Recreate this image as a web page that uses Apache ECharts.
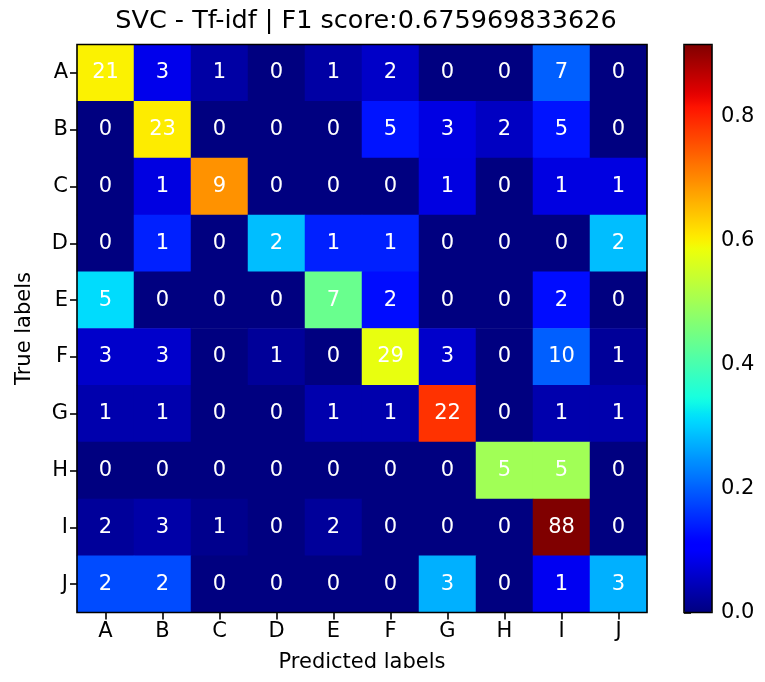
<!DOCTYPE html>
<html>
<head>
<meta charset="utf-8">
<script src="https://cdn.jsdelivr.net/npm/echarts@6/dist/echarts.min.js"></script>
<style>
html,body{margin:0;padding:0;background:#fff;}
#chart{width:765px;height:682px;}
</style>
</head>
<body>
<div id="chart"></div>
<script>
const categories = ['A','B','C','D','E','F','G','H','I','J'];
const counts = [
  [21, 3, 1, 0, 1, 2, 0, 0, 7, 0],
  [ 0,23, 0, 0, 0, 5, 3, 2, 5, 0],
  [ 0, 1, 9, 0, 0, 0, 1, 0, 1, 1],
  [ 0, 1, 0, 2, 1, 1, 0, 0, 0, 2],
  [ 5, 0, 0, 0, 7, 2, 0, 0, 2, 0],
  [ 3, 3, 0, 1, 0,29, 3, 0,10, 1],
  [ 1, 1, 0, 0, 1, 1,22, 0, 1, 1],
  [ 0, 0, 0, 0, 0, 0, 0, 5, 5, 0],
  [ 2, 3, 1, 0, 2, 0, 0, 0,88, 0],
  [ 2, 2, 0, 0, 0, 0, 3, 0, 1, 3]
];
const colorbarTicks = [0, 0.2, 0.4, 0.6, 0.8];
const titleText = 'SVC - Tf-idf | F1 score:0.675969833626';

// row-normalised values for colour
const data = [];
let vmax = 0;
counts.forEach((row, r) => {
  const s = row.reduce((a, b) => a + b, 0);
  row.forEach((c, col) => {
    const v = s ? c / s : 0;
    if (v > vmax) vmax = v;
    data.push([col, r, v, c]);
  });
});

// matplotlib "jet" colormap
function seg(pts, x) {
  for (let i = 1; i < pts.length; i++) {
    if (x <= pts[i][0]) {
      const [x0, y0] = pts[i - 1], [x1, y1] = pts[i];
      return y0 + (y1 - y0) * (x - x0) / (x1 - x0);
    }
  }
  return pts[pts.length - 1][1];
}
const R = [[0,0],[0.35,0],[0.66,1],[0.89,1],[1,0.5]];
const G = [[0,0],[0.125,0],[0.375,1],[0.64,1],[0.91,0],[1,0]];
const B = [[0,0.5],[0.11,1],[0.34,1],[0.65,0],[1,0]];
const jet = [];
for (let i = 0; i <= 64; i++) {
  const x = i / 64;
  const c = [seg(R,x), seg(G,x), seg(B,x)].map(v => Math.round(v * 255));
  jet.push('rgb(' + c.join(',') + ')');
}

const FONT = 'DejaVu Sans';
const FS = 21;
const chart = echarts.init(document.getElementById('chart'));
const gridMain = {left: 77, top: 44.5, width: 570, height: 568};
const gridBar = {left: 684, top: 44.5, width: 28, height: 568};
chart.setOption({
  animation: false,
  textStyle: {fontFamily: FONT, color: '#000'},
  title: {
    text: titleText,
    left: 361, top: 3, textAlign: 'center',
    textStyle: {fontFamily: FONT, fontSize: 25.5, fontWeight: 'normal', color: '#000'}
  },
  grid: [
    Object.assign({show: true, borderColor: '#000', borderWidth: 1.6, backgroundColor: 'transparent', z: 10, containLabel: false}, gridMain),
    Object.assign({show: true, borderColor: '#000', borderWidth: 1.6, backgroundColor: 'transparent', z: 10, containLabel: false}, gridBar)
  ],
  xAxis: [
    {
      type: 'category', data: categories, gridIndex: 0, position: 'bottom',
      name: 'Predicted labels', nameLocation: 'middle', nameGap: 40,
      nameTextStyle: {fontSize: FS, color: '#000', fontFamily: FONT},
      axisLine: {show: false},
      axisTick: {show: true, alignWithLabel: true, length: 7, lineStyle: {color: '#000', width: 1.6}},
      axisLabel: {fontSize: FS, color: '#000', margin: 9, fontFamily: FONT},
      splitLine: {show: false}
    },
    {
      type: 'value', gridIndex: 1, show: false, min: 0, max: 1
    }
  ],
  yAxis: [
    {
      type: 'category', data: categories, gridIndex: 0, inverse: true,
      name: 'True labels', nameLocation: 'middle', nameGap: 42,
      nameTextStyle: {fontSize: FS, color: '#000', fontFamily: FONT},
      axisLine: {show: false},
      axisTick: {show: true, alignWithLabel: true, length: 7, lineStyle: {color: '#000', width: 1.6}},
      axisLabel: {fontSize: FS, color: '#000', margin: 9, fontFamily: FONT},
      splitLine: {show: false}
    },
    {
      type: 'value', gridIndex: 1, position: 'right', min: 0, max: vmax,
      axisLine: {show: false},
      axisTick: {show: true, length: 7, customValues: colorbarTicks, lineStyle: {color: '#000', width: 1.6}},
      axisLabel: {fontSize: FS, color: '#000', margin: 9, fontFamily: FONT,
        customValues: colorbarTicks, formatter: v => v.toFixed(1)},
      splitLine: {show: false}
    }
  ],
  visualMap: {
    type: 'continuous', min: 0, max: vmax, dimension: 2, seriesIndex: 0,
    calculable: false, hoverLink: false, orient: 'vertical',
    left: gridBar.left, top: gridBar.top, itemWidth: gridBar.width, itemHeight: gridBar.height,
    padding: 0, text: null, inRange: {color: jet}
  },
  series: [{
    type: 'heatmap', xAxisIndex: 0, yAxisIndex: 0, data: data,
    itemStyle: {borderWidth: 0},
    emphasis: {disabled: true},
    label: {
      show: true, color: '#fff', fontSize: FS, fontFamily: FONT,
      formatter: p => String(p.data[3])
    }
  }]
});
</script>
</body>
</html>
